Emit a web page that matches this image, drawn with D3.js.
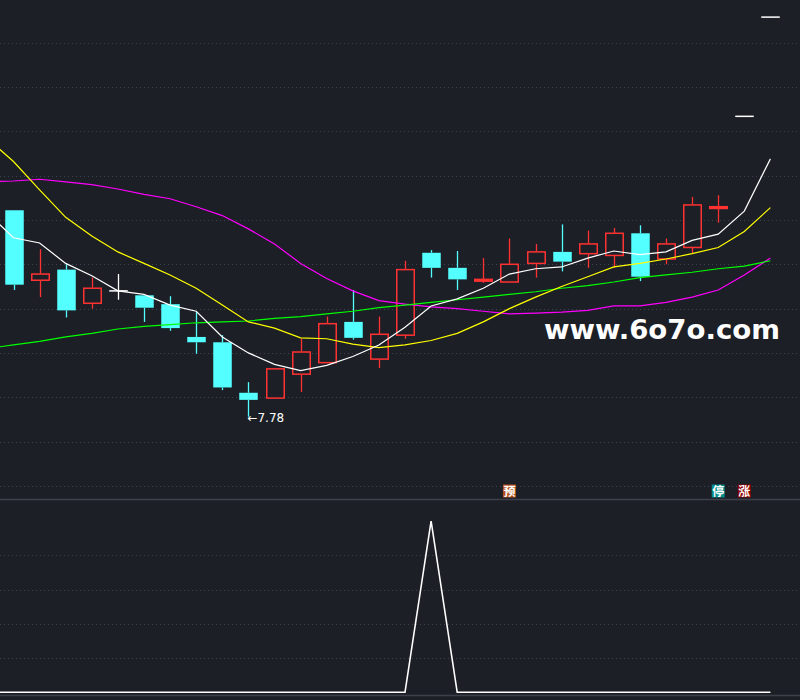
<!DOCTYPE html>
<html>
<head>
<meta charset="utf-8">
<style>
  html, body { margin: 0; padding: 0; background: #1c1f26; }
  svg { display: block; }
</style>
</head>
<body>
<div id="chart"></div>
<script src="https://d3js.org/d3.v7.min.js"></script>
<script>
// daily bars, index 0..29 (open, high, low, close)
const opens  = [10.11, 9.32, 9.44, 9.06, 9.20, 9.15, 9.05, 8.68, 8.62, 8.05,
                7.99, 8.26, 8.39, 8.85, 8.43, 8.70, 9.63, 9.46, 9.31, 9.30,
                9.51, 9.64, 9.62, 9.60, 9.85, 9.56, 9.69, 10.13, 11.17, 12.29];
const highs  = [10.11, 9.67, 9.50, 9.35, 9.39, 9.15, 9.14, 8.96, 8.70, 8.17,
                8.32, 8.66, 8.91, 9.21, 8.91, 9.54, 9.66, 9.65, 9.57, 9.79,
                9.73, 9.95, 9.88, 9.91, 9.94, 9.79, 10.26, 10.28, 11.17, 12.29];
const lows   = [9.21, 9.13, 8.90, 9.00, 9.10, 8.85, 8.75, 8.49, 8.08, 7.78,
                7.99, 8.06, 8.39, 8.65, 8.33, 8.66, 9.35, 9.21, 9.29, 9.30,
                9.35, 9.42, 9.46, 9.46, 9.31, 9.50, 9.62, 9.97, 11.17, 12.29];
const closes = [9.27, 9.39, 8.98, 9.23, 9.20, 9.01, 8.78, 8.62, 8.11, 7.97,
                8.32, 8.51, 8.83, 8.67, 8.71, 9.44, 9.46, 9.33, 9.33, 9.50,
                9.64, 9.53, 9.73, 9.85, 9.36, 9.73, 10.17, 10.15, 11.17, 12.29];

// moving averages, index -1..29 (first value is the bar just off the left edge)
const ma5  = [10.08, 9.80, 9.74, 9.51, 9.37, 9.20, 9.16, 9.04, 8.97, 8.68, 8.50,
              8.37, 8.30, 8.36, 8.46, 8.59, 8.79, 9.03, 9.11, 9.23, 9.39,
              9.45, 9.47, 9.57, 9.65, 9.61, 9.64, 9.77, 9.84, 10.10, 10.69];
const ma10 = [10.92, 10.66, 10.34, 10.03, 9.82, 9.64, 9.51, 9.38, 9.23, 9.04, 8.85,
              8.78, 8.67, 8.66, 8.60, 8.56, 8.59, 8.64, 8.72, 8.85, 9.00,
              9.13, 9.25, 9.36, 9.47, 9.51, 9.56, 9.62, 9.69, 9.87, 10.14];
const ma20 = [10.43, 10.44, 10.46, 10.43, 10.40, 10.35, 10.29, 10.24, 10.15, 10.05, 9.90,
              9.73, 9.51, 9.34, 9.20, 9.09, 9.05, 9.02, 9.00, 8.97, 8.94,
              8.95, 8.96, 8.98, 9.03, 9.03, 9.07, 9.13, 9.21, 9.38, 9.57];
const ma60 = [8.55, 8.59, 8.63, 8.68, 8.72, 8.77, 8.80, 8.82, 8.84, 8.85, 8.86,
              8.89, 8.91, 8.94, 8.97, 9.01, 9.04, 9.07, 9.10, 9.13, 9.16,
              9.19, 9.23, 9.26, 9.30, 9.35, 9.38, 9.41, 9.45, 9.48, 9.54];

// signal indicator in the lower pane, index -1..29
const signal = [0, 0, 0, 0, 0, 0, 0, 0, 0, 0, 0,
                0, 0, 0, 0, 0, 0, 5, 0, 0, 0,
                0, 0, 0, 0, 0, 0, 0, 0, 0, 0];

const priceTicks = [7, 7.5, 8, 8.5, 9, 9.5, 10, 10.5, 11, 11.5, 12];
const signalTicks = [1, 2, 3, 4];

// bar markers along the bottom of the price pane
const markers = [
  { index: 19, text: "预", color: "#b4501c" },
  { index: 27, text: "停", color: "#008c8c" },
  { index: 28, text: "涨", color: "#8c0000" }
];

const lowLabel = { index: 9, value: 7.78, text: "←7.78" };

const width = 800, height = 700;
const priceBottom = 499;

const svg = d3.select("#chart").append("svg")
    .attr("width", width)
    .attr("height", height);

svg.append("rect")
    .attr("width", width)
    .attr("height", height)
    .attr("fill", "#1c1f26");

const x = d3.scaleLinear().domain([0, 29]).range([13.5, 770.4]);
const y = d3.scaleLinear().domain([7, 12]).range([485.8, 42.8]);
const ys = d3.scaleLinear().domain([0, 5]).range([692.3, 521]);

svg.append("clipPath").attr("id", "priceClip")
  .append("rect").attr("x", 0).attr("y", 0).attr("width", width).attr("height", priceBottom);

// grid
svg.append("g")
    .selectAll("line")
    .data(priceTicks)
    .join("line")
    .attr("x1", 0).attr("x2", width)
    .attr("y1", d => Math.round(y(d)) + 0.5)
    .attr("y2", d => Math.round(y(d)) + 0.5)
    .attr("stroke", "#3e4350")
    .attr("stroke-width", 1)
    .attr("stroke-dasharray", "1,3");

svg.append("g")
    .selectAll("line")
    .data(signalTicks)
    .join("line")
    .attr("x1", 0).attr("x2", width)
    .attr("y1", d => Math.round(ys(d)) + 0.5)
    .attr("y2", d => Math.round(ys(d)) + 0.5)
    .attr("stroke", "#3e4350")
    .attr("stroke-width", 1)
    .attr("stroke-dasharray", "1,3");

// pane borders
svg.append("line")
    .attr("x1", 0).attr("x2", width).attr("y1", 499.5).attr("y2", 499.5)
    .attr("stroke", "#3c404a").attr("stroke-width", 1.5);
svg.append("line")
    .attr("x1", 0).attr("x2", width).attr("y1", 695.5).attr("y2", 695.5)
    .attr("stroke", "#3c404a").attr("stroke-width", 1.5);

// candles
const bars = d3.range(opens.length).map(i => ({
  i, o: opens[i], h: highs[i], l: lows[i], c: closes[i]
}));
const bw = 18.5;
const red = "#ff3232", cyan = "#54ffff";

const candle = svg.append("g").attr("clip-path", "url(#priceClip)")
    .selectAll("g")
    .data(bars)
    .join("g");

candle.each(function(d) {
  const g = d3.select(this);
  const cx = Math.round(x(d.i)) + 0.5;
  const yTop = y(Math.max(d.o, d.c));
  const yBot = y(Math.min(d.o, d.c));
  if (d.o === d.c) {
    // doji: white cross / flat bar
    if (d.h > d.l) {
      g.append("line").attr("x1", cx).attr("x2", cx).attr("y1", y(d.h)).attr("y2", y(d.l))
          .attr("stroke", "#fff").attr("stroke-width", 1.3);
    }
    g.append("line").attr("x1", cx - bw / 2).attr("x2", cx + bw / 2).attr("y1", yTop).attr("y2", yTop)
        .attr("stroke", "#fff").attr("stroke-width", 1.5);
    return;
  }
  const up = d.c > d.o;
  const col = up ? red : cyan;
  if (d.h > Math.max(d.o, d.c)) {
    g.append("line").attr("x1", cx).attr("x2", cx).attr("y1", y(d.h)).attr("y2", yTop)
        .attr("stroke", col).attr("stroke-width", 1.3);
  }
  if (d.l < Math.min(d.o, d.c)) {
    g.append("line").attr("x1", cx).attr("x2", cx).attr("y1", yBot).attr("y2", y(d.l))
        .attr("stroke", col).attr("stroke-width", 1.3);
  }
  const hgt = Math.max(yBot - yTop, 1.5);
  if (up) {
    g.append("rect")
        .attr("x", cx - bw / 2 + 0.5).attr("y", yTop)
        .attr("width", bw - 1).attr("height", hgt)
        .attr("fill", hgt < 4 ? red : "#1c1f26")
        .attr("stroke", red).attr("stroke-width", 1.5);
  } else {
    g.append("rect")
        .attr("x", cx - bw / 2).attr("y", yTop)
        .attr("width", bw).attr("height", hgt)
        .attr("fill", cyan);
  }
});

// moving averages
const maLine = d3.line()
    .x((d, k) => x(k - 1))
    .y(d => y(d));

const mas = [
  { data: ma20, color: "#ff00ff" },
  { data: ma60, color: "#00ff00" },
  { data: ma10, color: "#ffff00" },
  { data: ma5,  color: "#ffffff" }
];

svg.append("g").attr("clip-path", "url(#priceClip)")
    .selectAll("path")
    .data(mas)
    .join("path")
    .attr("d", d => maLine(d.data))
    .attr("fill", "none")
    .attr("stroke", d => d.color)
    .attr("stroke-width", 1.2);

// lowest price label
svg.append("text")
    .attr("x", x(lowLabel.index) - 1)
    .attr("y", y(lowLabel.value) + 5)
    .attr("fill", "#ffffff")
    .attr("font-family", "DejaVu Sans, sans-serif")
    .attr("font-size", 12)
    .text(lowLabel.text);

// markers
const mk = svg.append("g")
    .selectAll("g")
    .data(markers)
    .join("g")
    .attr("transform", d => `translate(${x(d.index)},491)`);
mk.append("rect")
    .attr("x", -6.5).attr("y", -6.5).attr("width", 13).attr("height", 13)
    .attr("fill", d => d.color);
mk.append("text")
    .attr("text-anchor", "middle")
    .attr("dy", "0.38em")
    .attr("fill", "#ffffff")
    .attr("font-family", "Noto Sans CJK SC, sans-serif")
    .attr("font-weight", "bold")
    .attr("font-size", 12)
    .text(d => d.text);

// watermark
svg.append("text")
    .attr("x", 544)
    .attr("y", 339)
    .attr("fill", "#ffffff")
    .attr("font-family", "DejaVu Sans, sans-serif")
    .attr("font-weight", "bold")
    .attr("font-size", 26)
    .attr("textLength", 236)
    .attr("lengthAdjust", "spacingAndGlyphs")
    .text("www.6o7o.com");

// signal pane
const sigLine = d3.line()
    .x((d, k) => x(k - 1))
    .y(d => ys(d));

svg.append("path")
    .attr("d", sigLine(signal))
    .attr("fill", "none")
    .attr("stroke", "#ffffff")
    .attr("stroke-width", 1.6);
</script>
</body>
</html>
